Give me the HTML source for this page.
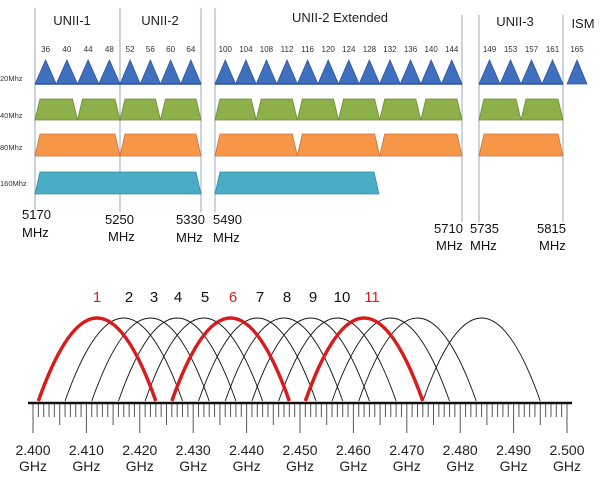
<!DOCTYPE html>
<html><head><meta charset="utf-8"><style>
html,body{margin:0;padding:0;background:#fff;width:601px;height:500px;overflow:hidden}
svg{display:block;font-family:"Liberation Sans",sans-serif}
</style></head><body>
<svg width="601" height="500" viewBox="0 0 601 500" xmlns="http://www.w3.org/2000/svg">
<g stroke="#a9b8c8" stroke-width="1.2">
<line x1="35" y1="8" x2="35" y2="210"/><line x1="120" y1="8" x2="120" y2="212"/>
<line x1="201" y1="8" x2="201" y2="212"/><line x1="215" y1="8" x2="215" y2="212"/>
<line x1="462" y1="15" x2="462" y2="222"/><line x1="479" y1="15" x2="479" y2="222"/>
<line x1="563" y1="15" x2="563" y2="222"/>
</g>
<g font-size="13" fill="#222" text-anchor="middle">
<text x="72" y="25">UNII-1</text><text x="160" y="25">UNII-2</text>
<text x="340" y="22">UNII-2 Extended</text><text x="515" y="26">UNII-3</text><text x="583" y="28">ISM</text>
</g>
<g font-size="7.5" fill="#333">
<text x="0" y="81">20Mhz</text><text x="0" y="118">40Mhz</text><text x="0" y="150">80Mhz</text><text x="0" y="186">160Mhz</text>
</g>
<g id="tri" fill="#3f6fbf" stroke="#2d5597" stroke-width="0.8"></g>
<g id="nums" font-size="8" fill="#333" text-anchor="middle"></g>
<g id="g40" fill="#8db04a" stroke="#6b8b33" stroke-width="0.8"></g>
<g id="g80" fill="#f79646" stroke="#c8733a" stroke-width="0.8"></g>
<g id="g160" fill="#4bacc6" stroke="#3a8aa0" stroke-width="0.8"></g>
<g font-size="13" fill="#111">
<text x="22" y="219">5170</text><text x="22" y="237">MHz</text>
<text x="105" y="224">5250</text><text x="108" y="241">MHz</text>
<text x="176" y="224">5330</text><text x="176" y="242">MHz</text>
<text x="213" y="224">5490</text><text x="213" y="242">MHz</text>
<text x="434" y="233">5710</text><text x="436" y="250">MHz</text>
<text x="470" y="233">5735</text><text x="470" y="250">MHz</text>
<text x="537" y="233">5815</text><text x="539" y="250">MHz</text>
</g>
<g id="curves" fill="none"></g>
<g id="ticks" stroke="#555" stroke-width="1"></g>
<line x1="28" y1="403" x2="572" y2="403" stroke="#111" stroke-width="2.5"/>
<g id="chn" font-size="15" text-anchor="middle"></g>
<g id="glab" font-size="14" fill="#222" text-anchor="middle"></g>
</svg>
<script>
var NS="http://www.w3.org/2000/svg";
function el(p,t,a,txt){var e=document.createElementNS(NS,t);for(var k in a)e.setAttribute(k,a[k]);if(txt!=null)e.textContent=txt;document.getElementById(p).appendChild(e);}
var groups=[[35,120,[36,40,44,48]],[120,201,[52,56,60,64]],[215,462,[100,104,108,112,116,120,124,128,132,136,140,144]],[479,563,[149,153,157,161]],[567,587,[165]]];
groups.forEach(function(g){var n=g[2].length,w=(g[1]-g[0])/n;
 for(var i=0;i<n;i++){var a=g[0]+i*w,b=a+w,c=(a+b)/2;
  el("tri","polygon",{points:a+",84 "+c+",60 "+b+",84"});
  el("nums","text",{x:c,y:52},g[2][i]);}
 if(n>1) el("tri","line",{x1:g[0],y1:84,x2:g[1],y2:84,stroke:"#2d5597","stroke-width":1.5});
});
function trap(p,a,b,y0,y1){var i=5;el(p,"polygon",{points:a+","+y1+" "+(a+i)+","+y0+" "+(b-i)+","+y0+" "+b+","+y1});}
function blocks(p,a,b,n,y0,y1){var w=(b-a)/n;for(var i=0;i<n;i++)trap(p,a+i*w,a+(i+1)*w,y0,y1);}
blocks("g40",35,120,2,99,120);blocks("g40",120,201,2,99,120);blocks("g40",215,462,6,99,120);blocks("g40",479,563,2,99,120);
blocks("g80",35,120,1,134,156);blocks("g80",120,201,1,134,156);blocks("g80",215,462,3,134,156);blocks("g80",479,563,1,134,156);
blocks("g160",35,201,1,172,194);blocks("g160",215,379,1,172,194);
// 2.4GHz
var x0=33,s=5.34;
for(var m=0;m<=101;m++){var x=x0+m*s;if(x>571)break;var l=(m%10==0)?433:(m%5==0)?425:417;el("ticks","line",{x1:x,y1:403,x2:x,y2:l});}
for(var k=0;k<=10;k++){var x=x0+k*10*s;el("glab","text",{x:x,y:455},(2.4+k*0.01).toFixed(3));el("glab","text",{x:x,y:471},"GHz");}
var centers=[];for(var c=1;c<=13;c++)centers.push(12+5*(c-1));centers.push(84);
var red=[1,6,11];
centers.forEach(function(cm,i){var ch=i+1;var xc=x0+cm*s,a=xc-11*s,b=xc+11*s;
 var r=red.indexOf(ch)>=0;
 if(!r) el("curves","path",{d:"M"+a+" 401 Q"+xc+" 235 "+b+" 401",stroke:"#111","stroke-width":0.9});
});
centers.forEach(function(cm,i){var ch=i+1;if(red.indexOf(ch)<0)return;var xc=x0+cm*s,a=xc-11*s,b=xc+11*s;
 el("curves","path",{d:"M"+a+" 401 Q"+xc+" 235 "+b+" 401",stroke:"#d81b1b","stroke-width":3.5});});
var lx=[97,129,154,178,205,233,260,287,313,342,372];
lx.forEach(function(x,i){el("chn","text",{x:x,y:302,fill:(red.indexOf(i+1)>=0)?"#d81b1b":"#111"},i+1);});
</script>
</body></html>
